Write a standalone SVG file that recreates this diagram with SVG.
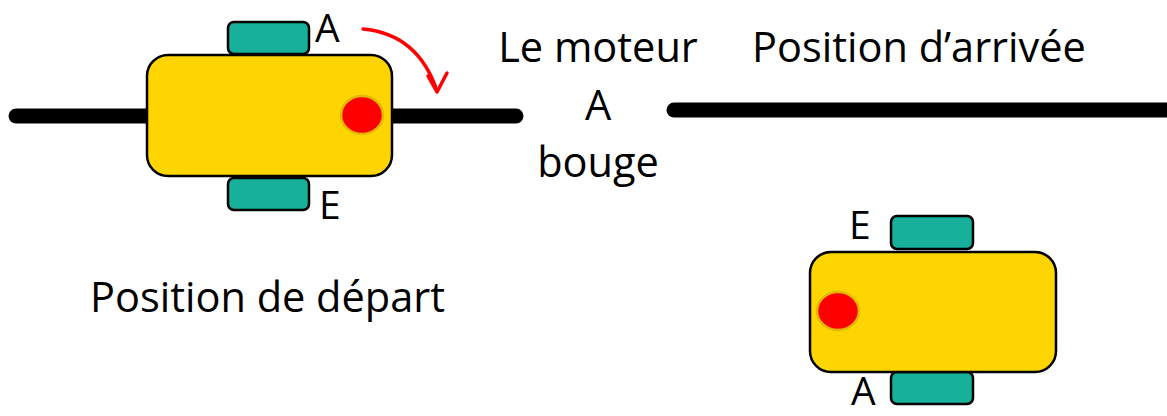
<svg xmlns="http://www.w3.org/2000/svg" width="1167" height="416" viewBox="0 0 1167 416">
  <style>
    .track { stroke: #000; stroke-width: 15; stroke-linecap: round; fill: none; }
    .body { fill: #FED500; stroke: #000; stroke-width: 2.5; }
    .wheel { fill: #16B09B; stroke: #000; stroke-width: 2.5; }
    .dot { fill: #FF0000; stroke: #E2B800; stroke-width: 2.5; }
    .lbl { font-family: "Open Sans", "Lato", sans-serif; font-size: 41.5px; fill: #000; }
    .tag { font-family: "Open Sans", "Lato", sans-serif; font-size: 39px; fill: #000; }
    .mid { text-anchor: middle; }
    .turn { stroke: #FF0000; stroke-width: 3.5; fill: none; stroke-linecap: round; stroke-linejoin: round; }
  </style>

  <g id="connectors">
    <line class="track" x1="16" y1="116" x2="516" y2="116"/>
    <line class="track" x1="674" y1="110" x2="1175" y2="110"/>
    <path class="turn" d="M363,29 Q418,34 437,91"/>
    <path class="turn" d="M428,76 L437,92 L447,73"/>
  </g>

  <g id="robot-start">
    <rect class="wheel" x="228" y="22" width="81" height="32" rx="6"/>
    <rect class="wheel" x="228" y="178" width="81" height="32" rx="6"/>
    <rect class="body" x="147" y="55" width="245" height="121" rx="21"/>
    <ellipse class="dot" cx="362" cy="115" rx="21" ry="19"/>
    <text class="tag" x="315" y="42">A</text>
    <text class="tag" x="319" y="219">E</text>
  </g>

  <g id="robot-end">
    <rect class="wheel" x="891" y="216" width="82" height="33" rx="6"/>
    <rect class="wheel" x="891" y="372" width="82" height="32" rx="6"/>
    <rect class="body" x="810" y="252" width="246" height="120" rx="21"/>
    <ellipse class="dot" cx="838" cy="311" rx="21" ry="19"/>
    <text class="tag" x="849" y="239">E</text>
    <text class="tag" x="851" y="405">A</text>
  </g>

  <g id="caption-move">
    <text class="lbl mid" x="598" y="62">Le moteur</text>
    <text class="lbl mid" x="598" y="120">A</text>
    <text class="lbl mid" x="598" y="177">bouge</text>
  </g>
  <g id="caption-end">
    <text class="lbl" x="752" y="62">Position d’arrivée</text>
  </g>
  <g id="caption-start">
    <text class="lbl" x="90" y="312">Position de départ</text>
  </g>
</svg>
